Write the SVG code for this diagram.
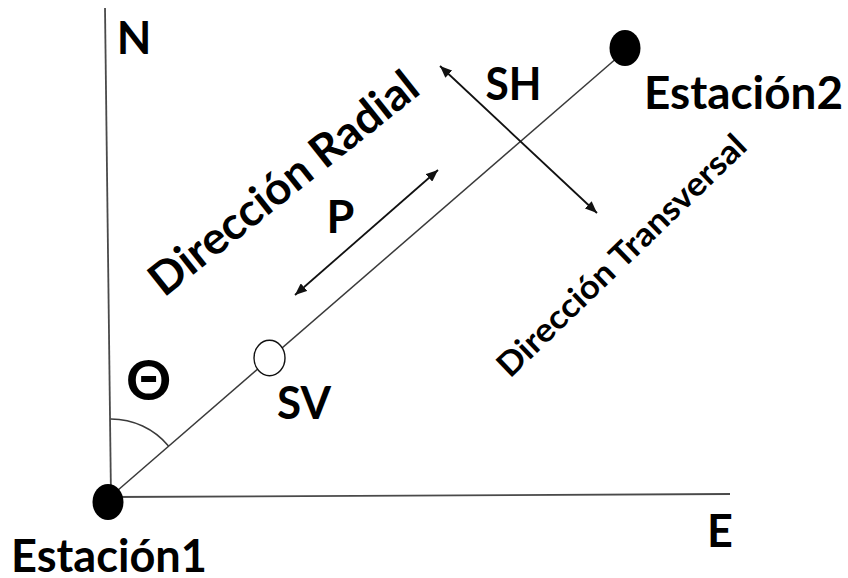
<svg xmlns="http://www.w3.org/2000/svg" width="848" height="578" viewBox="0 0 848 578">
  <defs>
    <style>
      .lbl { font-family: Lato, "Carlito", "Open Sans", sans-serif; font-weight: bold; fill: #000; }
      .big { font-size: 45px; }
      .mid { font-size: 33px; }
      .axis { stroke: #4a4a4a; stroke-width: 1.8; fill: none; }
      .ray { stroke: #3a3a3a; stroke-width: 1.5; fill: none; }
      .arrow { stroke: #111; stroke-width: 1.8; fill: none; marker-start: url(#ah); marker-end: url(#ah); }
      .dot { fill: #000; }
      .hollow { fill: #fff; stroke: #111; stroke-width: 1.4; }
    </style>
    <marker id="ah" viewBox="0 0 12 10" refX="12" refY="5" markerWidth="12" markerHeight="10" markerUnits="userSpaceOnUse" orient="auto-start-reverse">
      <path d="M0,0 L12,5 L0,10 z" fill="#111"/>
    </marker>
  </defs>

  <rect width="848" height="578" fill="#fff"/>

  <!-- axes, baseline between stations, angle arc and direction arrows -->
  <g id="connectors">
    <line class="axis" x1="105" y1="8" x2="111" y2="497"/>
    <line class="axis" x1="111" y1="497" x2="730" y2="494"/>
    <line class="ray" x1="110" y1="497" x2="618" y2="57"/>
    <path class="ray" d="M110.7 419 A75 75 0 0 1 168.5 446"/>
    <line class="arrow" x1="440" y1="66" x2="597" y2="213"/>
    <line class="arrow" x1="295" y1="295" x2="438" y2="170"/>
  </g>

  <!-- axis labels -->
  <g id="north">
    <text class="lbl big" x="134" y="54" text-anchor="middle">N</text>
  </g>
  <g id="east">
    <text class="lbl big" x="720" y="547" text-anchor="middle">E</text>
  </g>

  <!-- stations -->
  <g id="estacion1">
    <ellipse class="dot" cx="108" cy="502" rx="15.5" ry="18"/>
    <text class="lbl big" x="109" y="572" text-anchor="middle" textLength="196" lengthAdjust="spacingAndGlyphs">Estación1</text>
  </g>
  <g id="estacion2">
    <ellipse class="dot" cx="625" cy="48" rx="15.5" ry="18"/>
    <text class="lbl big" x="743.5" y="109" text-anchor="middle" textLength="199" lengthAdjust="spacingAndGlyphs">Estación2</text>
  </g>

  <!-- virtual source on the baseline -->
  <g id="sv">
    <ellipse class="hollow" cx="269.5" cy="358" rx="15.5" ry="17.7"/>
    <text class="lbl big" x="304" y="419" text-anchor="middle" textLength="54" lengthAdjust="spacingAndGlyphs">SV</text>
  </g>

  <g id="sh">
    <text class="lbl big" x="513.5" y="100" text-anchor="middle" textLength="56" lengthAdjust="spacingAndGlyphs">SH</text>
  </g>
  <g id="p">
    <text class="lbl big" x="340.5" y="233" text-anchor="middle">P</text>
  </g>
  <g id="theta">
    <text class="lbl" x="148.5" y="400" text-anchor="middle" font-size="56">Θ</text>
  </g>

  <!-- direction captions -->
  <g id="radial">
    <text class="lbl big" x="164" y="298" textLength="330" lengthAdjust="spacingAndGlyphs" transform="rotate(-38.5 164 298)">Dirección Radial</text>
  </g>
  <g id="transversal">
    <text class="lbl mid" x="510" y="379" textLength="332" lengthAdjust="spacingAndGlyphs" transform="rotate(-44 510 379)">Dirección Transversal</text>
  </g>
</svg>
